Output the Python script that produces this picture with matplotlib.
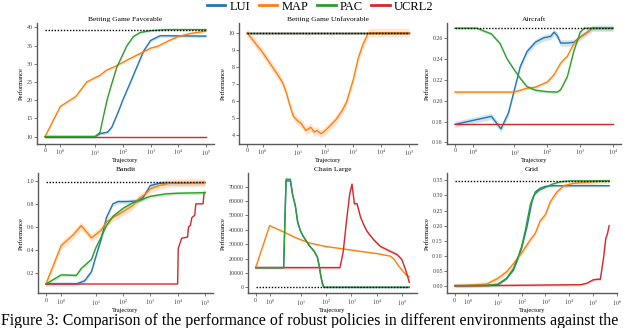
import numpy as np
import matplotlib.pyplot as plt
from matplotlib.ticker import NullLocator, FormatStrFormatter

plt.rcParams['font.family'] = 'serif'
plt.rcParams['font.serif'] = ['Liberation Serif', 'DejaVu Serif']
plt.rcParams['mathtext.fontset'] = 'stix'

names = ['LUI', 'MAP', 'PAC', 'UCRL2']
colors = ['#1f77b4', '#ff7f0e', '#2ca02c', '#d62728']
draw_order = [0, 1, 3, 2]

#### Betting Game Favorable
fav_lui_x = [0, 10, 15, 28, 40, 70, 100, 180, 320, 560, 1000, 2200, 4200, 1e5]
fav_lui_y = [10, 10, 10.8, 11.2, 12.6, 17, 20.1, 24.6, 29.1, 33.5, 36.4, 37.7, 37.7, 37.6]
fav_map_x = [0, 1, 2, 5, 10, 15, 25, 50, 100, 240, 560, 1000, 1800, 4200, 1e4, 2.7e4, 1e5]
fav_map_y = [10, 18.3, 21, 25, 26.2, 26.8, 28.2, 29.2, 30.4, 31.9, 33.3, 34.3, 34.8, 36.2, 37.5, 38.3, 39.0]
fav_pac_x = [0, 10, 15, 20, 28, 40, 60, 100, 136, 240, 420, 1000, 4000, 1e5]
fav_pac_y = [10, 10, 11.2, 15.7, 20.6, 24.6, 29, 32.6, 34.8, 37.5, 38.6, 39.1, 39.4, 39.4]
fav_ucrl_x = [0, 1e5]
fav_ucrl_y = [10, 10]
fav_band = [0.4, 0.35, 0.3, 0.0]
fav_opt = 39.4

#### Betting Game Unfavorable
unf_lui_x = [0, 1e5]
unf_lui_y = [10, 10]
unf_map_x = [0, 1, 2, 3, 4, 5, 7, 10, 14, 20, 30, 40, 50, 70, 100, 150, 250, 430,
             600, 750, 1000, 1500, 2260, 3400, 4000, 1e5]
unf_map_y = [10, 8.85, 7.5, 7.03, 6.46, 5.88, 5.1, 4.83, 4.64, 4.25, 4.44, 4.16, 4.25,
             4.06, 4.25, 4.54, 4.92, 5.5, 5.98, 6.55, 7.22, 8.47, 9.33, 9.94, 10, 10]
unf_pac_x = [0, 1e5]
unf_pac_y = [10, 10]
unf_ucrl_x = [0, 1e5]
unf_ucrl_y = [10, 10]
unf_band = [0.0, 0.25, 0.0, 0.0]
unf_opt = 10

#### Aircraft
air_lui_x = [0, 2, 3.9, 6.6, 10, 15, 24, 44, 78, 126, 160, 200, 254, 407, 650, 1000, 1660, 2340, 1e4]
air_lui_y = [0.1773, 0.185, 0.173, 0.1884, 0.2105, 0.2326, 0.247, 0.2562, 0.2603, 0.2616,
             0.2657, 0.2625, 0.2553, 0.2553, 0.256, 0.261, 0.2657, 0.2695, 0.2695]
air_map_x = [0, 10, 24, 44, 100, 159, 254, 407, 650, 1000, 1660, 2340, 1e4]
air_map_y = [0.2083, 0.2083, 0.212, 0.213, 0.218, 0.2247, 0.236, 0.2426, 0.2552, 0.261,
             0.2658, 0.2695, 0.2695]
air_pac_x = [0, 1.2, 2, 3.7, 5.9, 10, 15, 24, 44, 100, 200, 254, 407, 650, 1000, 1320, 1e4]
air_pac_y = [0.2695, 0.2695, 0.264, 0.2546, 0.2404, 0.2294, 0.2215, 0.2136, 0.210, 0.2086,
             0.2083, 0.2105, 0.2231, 0.2483, 0.2657, 0.2695, 0.2695]
air_ucrl_x = [0, 1e4]
air_ucrl_y = [0.1773, 0.1773]
air_band = [0.003, 0.0015, 0.0015, 0.0008]
air_opt = 0.2695

#### Bandit
ban_lui_x = [0, 2, 4, 7.1, 10, 16, 25, 43, 66, 132, 300, 530, 1000, 2150, 1e5]
ban_lui_y = [0.1, 0.1, 0.128, 0.208, 0.33, 0.49, 0.68, 0.8, 0.82, 0.82, 0.825, 0.85, 0.96, 0.98, 0.985]
ban_map_x = [0, 1, 1.8, 3, 4.6, 7.1, 10, 16, 25, 43, 100, 230, 400, 700, 1000, 2150, 4900, 1e4, 1e5]
ban_map_y = [0.1, 0.436, 0.53, 0.61, 0.557, 0.503, 0.53, 0.57, 0.64, 0.68, 0.73, 0.785, 0.85,
             0.89, 0.93, 0.96, 0.98, 0.985, 0.987]
ban_pac_x = [0, 1, 2, 3, 4.6, 7.1, 10, 16, 25, 43, 100, 230, 530, 1000, 3700, 1e4, 1e5]
ban_pac_y = [0.1, 0.18, 0.175, 0.235, 0.275, 0.315, 0.41, 0.51, 0.61, 0.69, 0.76, 0.81, 0.84,
             0.866, 0.887, 0.893, 0.898]
ban_ucrl_x = [0, 1e4, 1.05e4, 1.4e4, 2.3e4, 2.5e4, 2.9e4, 3.3e4, 4.2e4, 4.6e4, 8.5e4, 9.2e4, 1e5]
ban_ucrl_y = [0.1, 0.1, 0.41, 0.5, 0.51, 0.6, 0.61, 0.68, 0.7, 0.8, 0.8, 0.9, 0.9]
ban_band = [0.02, 0.035, 0.015, 0.0]
ban_opt = 0.987

#### Chain Large
chn_lui_x = [0, 2, 2.5, 3.7, 4.6, 5.8, 7.2, 9, 11.5, 21, 33, 44, 52, 60, 70, 80, 2e5]
chn_lui_y = [13700, 13700, 74000, 74000, 64000, 57000, 45600, 40000, 36000, 29000, 25000,
             21000, 15000, 8000, 3000, 0, 0]
chn_map_x = [0, 1, 2.6, 6.5, 22, 87, 470, 2270, 1e4, 3.5e4, 5e4, 7.5e4, 1.4e5, 2e5]
chn_map_y = [13700, 42900, 37600, 34200, 30800, 28500, 26700, 25000, 23500, 21700, 19400,
             14800, 9100, 7300]
chn_pac_x = [0, 2, 2.5, 3.7, 4.6, 5.8, 7.2, 9, 11.5, 21, 33, 44, 52, 60, 70, 77, 2e5]
chn_pac_y = [13700, 13700, 75200, 75200, 64000, 57000, 45600, 40000, 36000, 29000, 25000,
             21000, 15000, 8000, 2000, 0, 0]
chn_ucrl_x = [0, 350, 470, 650, 850, 1050, 1300, 1670, 2270, 3100, 4200, 7700, 14000, 35000,
              65000, 1e5, 1.4e5, 2e5]
chn_ucrl_y = [13700, 13700, 25000, 47900, 65000, 71800, 58100, 58100, 49000, 43300, 38800,
              33000, 28500, 25000, 22800, 19400, 12500, 3400]
chn_band = [500, 400, 500, 1000]
chn_opt = 0

#### Grid
grd_lui_x = [0, 3.4, 10, 23, 45, 73, 100, 166, 270, 370, 600, 1000, 2200, 4.7e5]
grd_lui_y = [0.002, 0.002, 0.005, 0.024, 0.053, 0.095, 0.126, 0.195, 0.279, 0.311, 0.324,
             0.33, 0.332, 0.332]
grd_map_x = [0, 1, 3.4, 10, 23, 45, 100, 230, 370, 600, 1000, 1600, 3000, 5800, 15500, 1e5, 4.7e5]
grd_map_y = [0.002, 0.003, 0.007, 0.026, 0.047, 0.074, 0.11, 0.153, 0.174, 0.216, 0.237,
             0.279, 0.311, 0.332, 0.34, 0.345, 0.348]
grd_pac_x = [0, 3.4, 10, 23, 45, 73, 100, 142, 230, 320, 515, 1000, 1900, 4200, 11000, 4.7e5]
grd_pac_y = [0.002, 0.003, 0.007, 0.026, 0.058, 0.1, 0.132, 0.184, 0.269, 0.3, 0.316, 0.327,
             0.337, 0.345, 0.348, 0.348]
grd_ucrl_x = [0, 30000, 56000, 1e5, 1.5e5, 2e5, 2.7e5, 3.4e5, 4e5, 4.7e5]
grd_ucrl_y = [0.001, 0.005, 0.01, 0.021, 0.023, 0.023, 0.09, 0.158, 0.174, 0.2]
grd_band = [0.004, 0.008, 0.003, 0.004]
grd_opt = 0.348

panels = [
    ('Betting Game Favorable', [(fav_lui_x, fav_lui_y), (fav_map_x, fav_map_y), (fav_pac_x, fav_pac_y),
                                (fav_ucrl_x, fav_ucrl_y)], fav_band, fav_opt, 5,
     np.arange(10, 41, 5), '%d', None, [0.0578, 0.5625, 0.2766, 0.3674]),
    ('Betting Game Unfavorable', [(unf_lui_x, unf_lui_y), (unf_map_x, unf_map_y), (unf_pac_x, unf_pac_y),
                                  (unf_ucrl_x, unf_ucrl_y)], unf_band, unf_opt, 5,
     np.arange(4, 11, 1), '%d', None, [0.3734, 0.5625, 0.2781, 0.3674]),
    ('Aircraft', [(air_lui_x, air_lui_y), (air_map_x, air_map_y), (air_pac_x, air_pac_y),
                  (air_ucrl_x, air_ucrl_y)], air_band, air_opt, 4,
     np.arange(0.16, 0.261, 0.02), '%.2f', (0.159, 0.2745), [0.6984, 0.5625, 0.2719, 0.3674]),
    ('Bandit', [(ban_lui_x, ban_lui_y), (ban_map_x, ban_map_y), (ban_pac_x, ban_pac_y),
                (ban_ucrl_x, ban_ucrl_y)], ban_band, ban_opt, 5,
     np.arange(0.2, 1.01, 0.2), '%.1f', None, [0.0594, 0.1052, 0.2734, 0.3674]),
    ('Chain Large', [(chn_lui_x, chn_lui_y), (chn_map_x, chn_map_y), (chn_pac_x, chn_pac_y),
                     (chn_ucrl_x, chn_ucrl_y)], chn_band, chn_opt, 5,
     np.arange(0, 70001, 10000), '%d', None, [0.3875, 0.1052, 0.2641, 0.3674]),
    ('Grid', [(grd_lui_x, grd_lui_y), (grd_map_x, grd_map_y), (grd_pac_x, grd_pac_y),
              (grd_ucrl_x, grd_ucrl_y)], grd_band, grd_opt, 6,
     np.arange(0, 0.351, 0.05), '%.2f', None, [0.6984, 0.1052, 0.2656, 0.3674]),
]

fig = plt.figure(figsize=(6.4, 3.28), dpi=100)
handles = {}
for title, series, band, opt, maxdec, yticks, fmt, ylim, rect in panels:
    ax = fig.add_axes(rect)
    for i in draw_order:
        x = np.array(series[i][0], float)
        y = np.array(series[i][1], float)
        if band[i] > 0:
            ax.fill_between(x, y - band[i], y + band[i], color=colors[i], alpha=0.2, lw=0)
        h, = ax.plot(x, y, color=colors[i], lw=1.0)
        handles[names[i]] = h
    xend = max(max(s[0]) for s in series)
    ax.plot([0, xend], [opt, opt], color='k', ls=(0, (1, 1.2)), lw=1.0)
    ax.set_xscale('symlog', linthresh=2, linscale=1)
    ax.set_xticks([0] + [10 ** k for k in range(maxdec + 1)])
    ax.set_xticklabels(['0'] + ['$10^{%d}$' % k for k in range(maxdec + 1)])
    ax.xaxis.set_minor_locator(NullLocator())
    ax.set_yticks(yticks)
    ax.yaxis.set_major_formatter(FormatStrFormatter(fmt))
    if ylim:
        ax.set_ylim(*ylim)
    ax.set_title(title, fontsize=5.4, pad=1.5)
    ax.set_xlabel('Trajectory', fontsize=4.6, labelpad=0)
    ax.set_ylabel('Performance', fontsize=4.6, labelpad=2)
    ax.tick_params(labelsize=4.3, length=2, width=0.5, pad=1.0, colors='0.25')
    for s in ['top', 'right']:
        ax.spines[s].set_visible(False)
    for s in ['left', 'bottom']:
        ax.spines[s].set_color('0.35')
        ax.spines[s].set_linewidth(1.0)

leg = fig.legend([handles[n] for n in names], names, loc='center', bbox_to_anchor=(0.5, 0.98),
                 ncol=4, frameon=False, fontsize=9, handlelength=1.5, handletextpad=0.3,
                 columnspacing=0.7)
for l in leg.get_lines():
    l.set_linewidth(2.0)

fig.text(0.002, 0.008, 'Figure 3: Comparison of the performance of robust policies in different '
         'environments against the', fontsize=11.4, ha='left', va='baseline')

fig.savefig('out.png', dpi=100)
